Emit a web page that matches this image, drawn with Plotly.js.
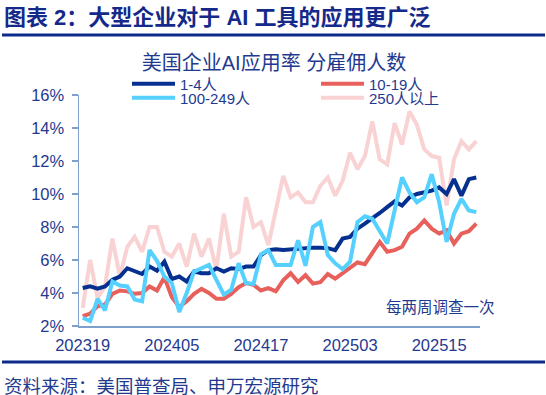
<!DOCTYPE html>
<html><head><meta charset="utf-8">
<script src="https://cdn.plot.ly/plotly-3.0.1.min.js"></script>
<style>html,body{margin:0;padding:0;background:#fff}#chart{width:546px;height:395px}</style>
</head><body><div id="chart"></div>
<script>
const periods = ['202319','202320','202321','202322','202323','202324','202325','202326',
  '202401','202402','202403','202404','202405','202406','202407','202408','202409','202410','202411','202412','202413',
  '202414','202415','202416','202417','202418','202419','202420','202421','202422','202423','202424','202425','202426',
  '202501','202502','202503','202504','202505','202506','202507','202508','202509','202510','202511','202512','202513',
  '202514','202515','202516','202517','202518','202519','202520'];
const labelPeriods = ['202319','202405','202417','202503','202515'];
const seriesNames = ['1-4人','10-19人','100-249人','250人以上'];
const size1to4 = [4.3,4.4,4.27,4.4,4.8,5.0,5.5,5.35,5.15,5.6,5.35,5.9,4.85,5.0,4.7,5.3,5.2,5.2,5.5,5.3,5.5,5.45,5.6,5.6,
  6.3,6.6,6.65,6.6,6.65,6.7,6.72,6.75,6.75,6.72,6.6,7.3,7.4,7.9,8.2,8.5,8.85,9.2,9.55,9.3,9.8,10.0,10.1,10.2,10.4,10.0,10.9,9.9,10.9,11.0];
const size10to19 = [2.6,2.75,3.2,3.3,3.95,4.15,4.1,3.95,4.0,4.4,4.15,4.95,3.75,3.15,3.5,3.95,4.25,4.0,3.65,3.65,3.95,4.35,4.6,4.5,
  4.15,4.3,4.1,4.77,5.2,4.67,5.08,4.57,4.65,5.15,4.87,5.18,5.5,5.85,5.75,6.45,7.1,6.5,6.6,6.8,7.6,7.9,8.4,7.9,7.6,7.8,7.0,7.6,7.75,8.2];
const size100to249 = [2.5,2.3,3.65,2.95,4.7,4.45,4.4,3.6,3.5,6.6,5.95,5.0,4.6,2.85,4.0,5.3,5.5,5.7,4.8,3.9,4.2,5.8,4.6,4.55,
  6.35,6.6,5.7,5.7,5.7,7.2,5.65,8.0,8.3,6.3,5.8,5.45,5.9,8.3,8.65,8.5,7.7,7.0,9.0,11.0,10.1,9.5,9.8,11.2,9.5,7.1,8.8,9.7,9.0,8.9];
const size250plus = [3.1,6.0,3.7,4.4,7.3,5.0,6.8,7.4,6.5,8.0,8.0,6.5,6.2,7.0,5.6,7.6,6.2,7.3,5.4,8.8,6.2,6.5,9.8,8.0,
  8.3,6.9,9.0,11.1,9.8,10.1,9.5,9.5,10.5,11.0,9.9,10.8,12.5,11.5,12.3,14.4,12.1,11.8,14.3,13.0,15.0,14.2,12.7,12.3,12.2,9.3,12.1,13.2,12.7,13.2];

const textColor = '#1f3a8f';
const axisColor = '#7f9fcf';
const fontFam = '"Liberation Sans", Arial, "Noto Sans CJK SC", sans-serif';
const W = 546, H = 395, L = 79, R = 480, T = 95, B = 326;
const px = v => (v - L) / (R - L);
const py = v => (B - v) / (B - T);

const traces = [
  {name: seriesNames[3], x: periods, y: size250plus, type: 'scatter', mode: 'lines',
   line: {color: '#f9d3d3', width: 4}, legend: 'legend2', legendrank: 2},
  {name: seriesNames[1], x: periods, y: size10to19, type: 'scatter', mode: 'lines',
   line: {color: '#e8605c', width: 4}, legend: 'legend', legendrank: 2},
  {name: seriesNames[0], x: periods, y: size1to4, type: 'scatter', mode: 'lines',
   line: {color: '#06308f', width: 4}, legend: 'legend', legendrank: 1},
  {name: seriesNames[2], x: periods, y: size100to249, type: 'scatter', mode: 'lines',
   line: {color: '#55d0ff', width: 4}, legend: 'legend2', legendrank: 1}
];

const legendBase = {orientation: 'h', xanchor: 'left', yanchor: 'middle', x: px(127),
  entrywidth: 131, entrywidthmode: 'pixels', itemwidth: 43, bgcolor: 'rgba(0,0,0,0)',
  font: {family: fontFam, size: 15, color: textColor}, traceorder: 'normal'};

const layout = {
  width: W, height: H,
  margin: {l: L, r: W - R, t: T, b: H - B, pad: 0},
  paper_bgcolor: '#fff', plot_bgcolor: '#fff',
  font: {family: fontFam, color: textColor},
  title: {text: '美国企业AI应用率 分雇佣人数', font: {family: fontFam, size: 20, color: textColor},
    xref: 'paper', x: px(274), xanchor: 'center', yref: 'container', y: 1 - 63 / H, yanchor: 'middle'},
  legend: Object.assign({}, legendBase, {y: py(84)}),
  legend2: Object.assign({}, legendBase, {y: py(98)}),
  xaxis: {type: 'category', categoryorder: 'array', categoryarray: periods, range: [-0.5, periods.length - 0.5],
    tickmode: 'array', tickvals: labelPeriods, ticktext: labelPeriods, ticks: '', ticklabelstandoff: 4,
    showline: true, linecolor: axisColor, linewidth: 1.5, showgrid: false, zeroline: false,
    tickfont: {family: fontFam, size: 16.5, color: textColor}},
  xaxis2: {overlaying: 'x', anchor: 'y', side: 'bottom', type: 'linear', range: [-0.5, periods.length - 0.5],
    tickmode: 'array', tickvals: labelPeriods.map(p => periods.indexOf(p) - 0.5),
    ticks: 'outside', ticklen: 5, tickwidth: 1.5, tickcolor: axisColor, showticklabels: false,
    showline: false, showgrid: false, zeroline: false},
  yaxis: {range: [2, 16], tick0: 0, dtick: 2, ticksuffix: '%', ticks: 'outside', ticklen: 6, tickwidth: 1.5,
    tickcolor: axisColor, showline: true, linecolor: axisColor, linewidth: 1.5, showgrid: false, zeroline: false,
    ticklabelstandoff: 4, tickfont: {family: fontFam, size: 16.5, color: textColor}},
  shapes: [
    {type: 'line', xref: 'paper', yref: 'paper', x0: px(2), x1: px(545), y0: py(35), y1: py(35), line: {color: '#0b2a8a', width: 3}},
    {type: 'line', xref: 'paper', yref: 'paper', x0: px(2), x1: px(545), y0: py(362), y1: py(362), line: {color: '#0b2a8a', width: 3}}
  ],
  annotations: [
    {text: '<b>图表 2：大型企业对于 AI 工具的应用更广泛</b>', xref: 'paper', yref: 'paper', x: px(2), y: py(17.5),
     xanchor: 'left', yanchor: 'middle', showarrow: false, font: {family: fontFam, size: 22, color: '#14298a'}},
    {text: '资料来源：美国普查局、申万宏源研究', xref: 'paper', yref: 'paper', x: px(2), y: py(386.5),
     xanchor: 'left', yanchor: 'middle', showarrow: false, font: {family: fontFam, size: 18.5, color: textColor}},
    {text: '每两周调查一次', xref: 'paper', yref: 'paper', x: px(440), y: py(307.7),
     xanchor: 'center', yanchor: 'middle', showarrow: false, font: {family: fontFam, size: 15.5, color: textColor}}
  ]
};

Plotly.newPlot('chart', traces, layout, {displayModeBar: false, staticPlot: true});
</script></body></html>
